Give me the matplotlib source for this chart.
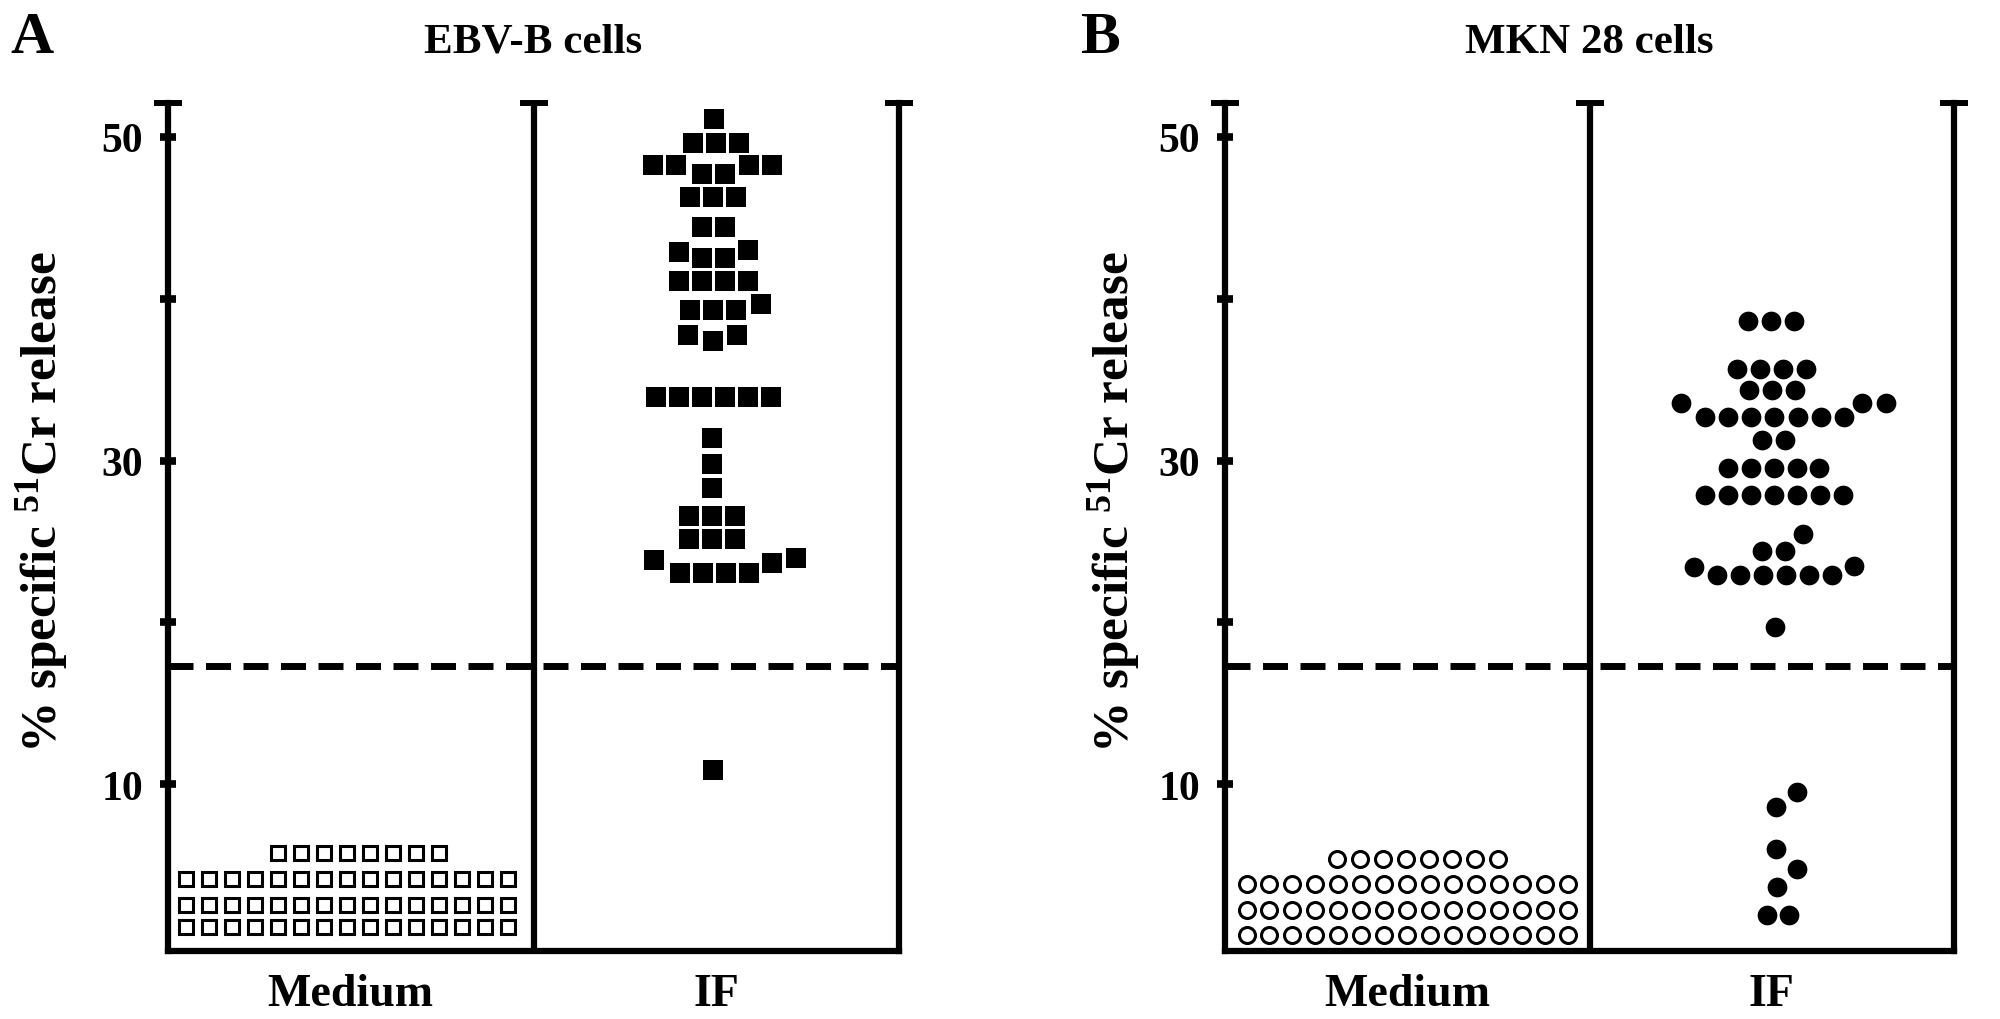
import matplotlib
matplotlib.use("Agg")
import matplotlib.pyplot as plt

plt.rcParams['font.family'] = ['Liberation Serif', 'DejaVu Serif']
plt.rcParams['font.weight'] = 'bold'
plt.rcParams['axes.labelweight'] = 'bold'
plt.rcParams['mathtext.fontset'] = 'custom'
plt.rcParams['mathtext.rm'] = 'Liberation Serif:bold'
plt.rcParams['mathtext.bf'] = 'Liberation Serif:bold'
plt.rcParams['mathtext.it'] = 'Liberation Serif:bold:italic'

groups = ['Medium', 'IF']
cutoff = 17.3

# panel A (EBV-B cells), squares
a_med_vals = [5.76] * 8 + [4.13] * 15 + [2.56] * 15 + [1.19] * 15
a_med_slots = [k - 3.18 for k in range(8)] + [k - 7.15 for k in range(15)] * 3

a_if_vals = [51.13,
             49.64, 49.64, 49.64,
             48.26, 48.26, 48.26, 48.26,
             47.73, 47.73,
             46.30, 46.30, 46.30,
             44.45, 44.45,
             42.90, 43.00, 42.55, 42.55,
             41.09, 41.09, 41.09, 41.09,
             39.28, 39.28, 39.28, 39.69,
             37.77, 37.40, 37.77,
             33.92, 33.92, 33.92, 33.92, 33.92, 33.92,
             31.38, 29.80, 28.34,
             26.61, 26.61, 26.61,
             25.17, 25.17, 25.17,
             23.83,
             23.04, 23.04, 23.04, 23.04,
             23.66, 23.97,
             10.9]
a_if_slots = [-0.08,
              -1.02, -0.02, 0.98,
              -2.75, -1.75, 1.42, 2.42,
              -0.63, 0.37,
              -1.14, -0.14, 0.86,
              -0.63, 0.37,
              -1.63, 1.37, -0.63, 0.37,
              -1.63, -0.63, 0.37, 1.37,
              -1.14, -0.14, 0.86, 1.93,
              -1.24, -0.14, 0.92,
              -2.63, -1.63, -0.63, 0.37, 1.37, 2.37,
              -0.18, -0.18, -0.18,
              -1.18, -0.18, 0.82,
              -1.18, -0.18, 0.82,
              -2.69,
              -1.58, -0.58, 0.42, 1.42,
              2.42, 3.48,
              -0.14]

# panel B (MKN 28 cells), circles
b_med_vals = [5.41] * 8 + [3.82] * 15 + [2.26] * 15 + [0.67] * 15
b_med_slots = [k - 3.05 for k in range(8)] + [k - 7.0 for k in range(15)] * 3

b_if_vals = [38.62, 38.62, 38.62,
             35.69, 35.69, 35.69, 35.69,
             34.35, 34.35, 34.35,
             33.57, 33.57, 33.57,
             32.71, 32.71, 32.71, 32.71, 32.71, 32.71, 32.71,
             31.26, 31.26,
             29.57, 29.57, 29.57, 29.57, 29.57,
             27.86, 27.86, 27.86, 27.86, 27.86, 27.86, 27.86,
             25.49,
             24.40, 24.40,
             23.45,
             22.92, 22.92, 22.92, 22.92, 22.92, 22.92,
             23.47,
             19.73,
             9.51, 8.62, 6.03, 4.75, 3.66, 1.95, 1.95]
b_if_slots = [-1.02, -0.03, 0.98,
              -1.52, -0.52, 0.48, 1.48,
              -0.98, 0.02, 1.02,
              -3.96, 3.95, 4.97,
              -2.90, -1.90, -0.90, 0.10, 1.13, 2.14, 3.13,
              -0.41, 0.59,
              -1.92, -0.92, 0.08, 1.08, 2.07,
              -2.90, -1.90, -0.90, 0.10, 1.10, 2.10, 3.10,
              1.37,
              -0.41, 0.59,
              -3.37,
              -2.37, -1.37, -0.37, 0.62, 1.63, 2.63,
              3.58,
              0.14,
              1.08, 0.18, 0.18, 1.08, 0.24, -0.22, 0.75]

SLOT = 0.063  # swarm spacing in x data units
YMIN, YMAX = -0.3, 52.1


def draw_panel(ax, title, letter, letter_x, label_x,
               med_vals, med_slots, if_vals, if_slots, marker, med_ms, if_ms):
    ax.set_xlim(0, 2)
    ax.set_ylim(YMIN, YMAX)
    for s in ['left', 'right', 'bottom']:
        ax.spines[s].set_linewidth(4.5)
        ax.spines[s].set_color('black')
    ax.spines['top'].set_visible(False)
    ax.axvline(1, color='black', lw=4.5)
    ax.plot([0, 1, 2], [YMAX] * 3, ls='none', marker='_', ms=20, mew=4.3,
            color='black', clip_on=False)
    ax.axhline(cutoff, color='black', lw=5, dashes=(3.6, 1.8))

    ax.plot([0.5 + s * SLOT for s in med_slots], med_vals, ls='none',
            marker=marker, ms=med_ms, mfc='white', mec='black', mew=2.2,
            clip_on=False)
    ax.plot([1.5 + s * SLOT for s in if_slots], if_vals, ls='none',
            marker=marker, ms=if_ms, mfc='black', mec='black', mew=0,
            clip_on=False)

    ax.set_yticks([10, 20, 30, 40, 50])
    ax.set_yticklabels(['10', '', '30', '', '50'])
    ax.tick_params(axis='y', direction='inout', length=12, width=5.5,
                   labelsize=30, pad=12)
    ax.set_xticks([0.5, 1.5])
    ax.set_xticklabels(groups)
    ax.tick_params(axis='x', length=0, labelsize=33, pad=16)

    ax.set_title(title, fontsize=31, fontweight='bold', pad=37)
    ax.set_ylabel(r'% specific $^{51}$Cr release', fontsize=37,
                  fontweight='bold')
    ax.yaxis.set_label_coords(label_x, 0.53)
    ax.figure.text(letter_x, 1 - 53 / 1020, letter, fontsize=43,
                   fontweight='bold', ha='left', va='baseline')


fig = plt.figure(figsize=(20, 10.2), dpi=100)
axA = fig.add_axes([168 / 2000, 1 - 952 / 1020, 731 / 2000, 848 / 1020])
axB = fig.add_axes([1225 / 2000, 1 - 952 / 1020, 729 / 2000, 848 / 1020])

draw_panel(axA, 'EBV-B cells', 'A', 10 / 2000, -0.134,
           a_med_vals, a_med_slots, a_if_vals, a_if_slots, 's', 10.0, 13.7)
draw_panel(axB, 'MKN 28 cells', 'B', 1080 / 2000, -0.114,
           b_med_vals, b_med_slots, b_if_vals, b_if_slots, 'o', 11.5, 14.2)

fig.savefig('out.png', dpi=100, facecolor='white')
